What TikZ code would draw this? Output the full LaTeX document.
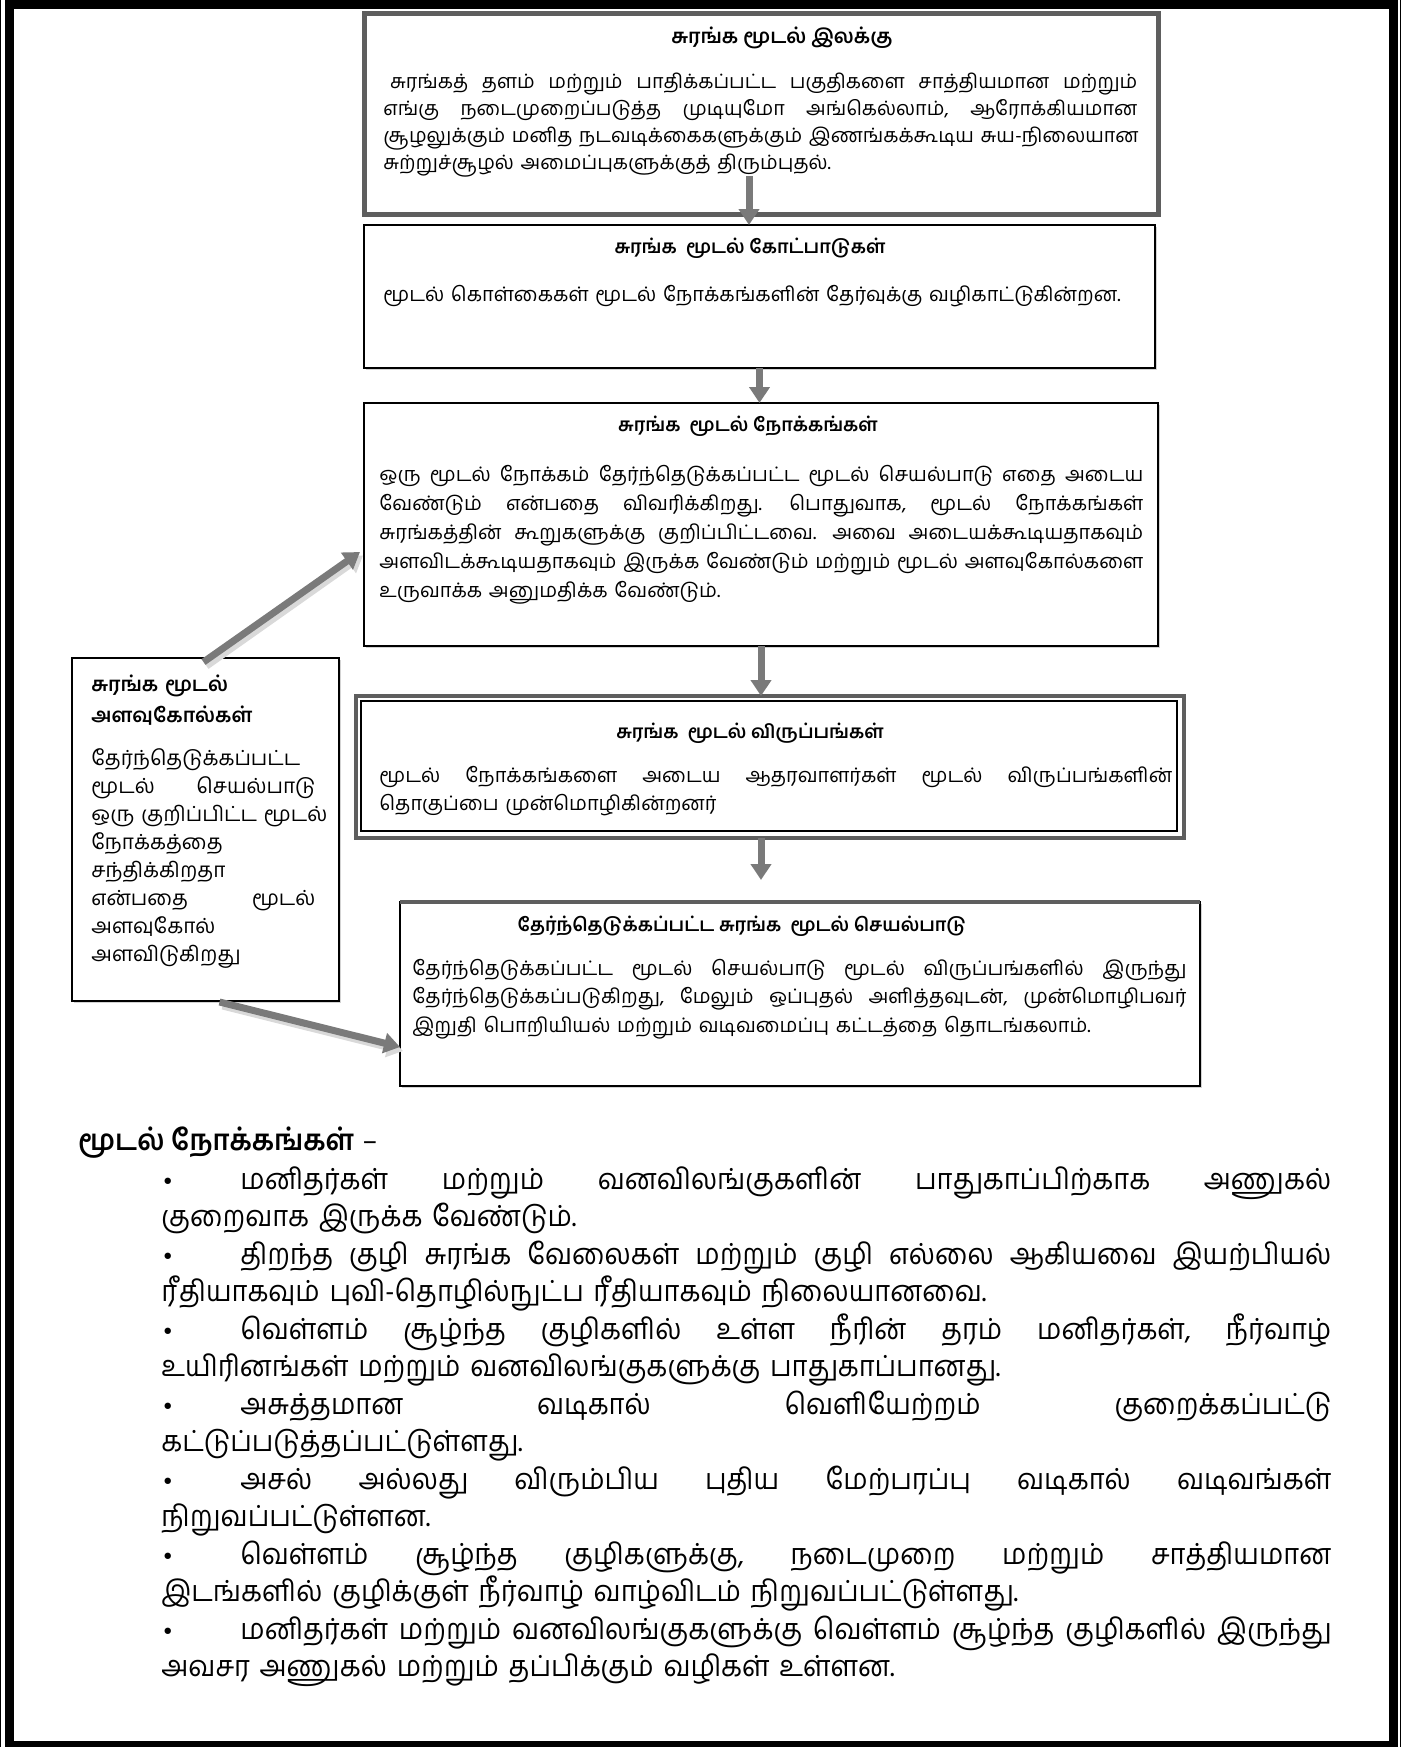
\documentclass[tikz,border=0pt]{standalone}
\usepackage{fontspec}
\usetikzlibrary{calc,arrows.meta,shadows}
\newfontfamily\tam[Script=Tamil]{Hind Madurai}
\newfontfamily\tamn[Script=Tamil,FakeStretch=0.94]{Hind Madurai}
\newfontfamily\djv{DejaVu Sans}
\newcommand\JL[2]{\leavevmode\hbox to #1{#2}}
\def\s{ \hfill}
\newcommand\bul{\hbox to 39.5pt{\djv\fontsize{11}{11}\selectfont •\hfil}}
\definecolor{arrgray}{HTML}{7A7A7A}
\definecolor{bordgray}{HTML}{5E5E5E}
\begin{document}
\begin{tikzpicture}[x=0.5pt,y=-0.5pt,
  bx/.style={inner sep=0pt, outer sep=0pt, anchor=north west, fill=white},
  shd/.style={drop shadow={shadow xshift=1.2pt, shadow yshift=-1.2pt, opacity=0.35}},
  body/.style={anchor=base west, inner sep=0pt, align=left, font=\tam\fontsize{10}{#1}\selectfont},
  ttl/.style={anchor=base, inner sep=0pt, font=\tam\bfseries\fontsize{9.3}{12}\selectfont},
  garrow/.style={draw=arrgray, line width=3.5pt, -{Triangle[length=8pt,width=10pt]}},
  gshadow/.style={draw=black!15, line width=3.5pt, -{Triangle[length=8pt,width=10pt]}}
]
\useasboundingbox (0,0) rectangle (1417,1747);
% page frame
\draw[line width=0.65pt] (0.7,0) -- (0.7,1747);
\draw[line width=0.65pt] (1400.5,0) -- (1400.5,1747);
\draw[line width=4.5pt] (9.5,4) rectangle (1393,1745);

% boxes
\node[bx, draw=bordgray, line width=2.5pt, minimum width=397pt, minimum height=100.5pt] (b1) at (364,13) {};
\node[bx, shd, draw=black, line width=0.8pt, minimum width=395.5pt, minimum height=71.5pt] (b2) at (364,225) {};
\node[bx, shd, draw=black, line width=1pt, minimum width=397pt, minimum height=121.5pt] (b3) at (364,403) {};
\node[bx, draw=bordgray, line width=2pt, minimum width=414pt, minimum height=71pt] (b4) at (356,696) {};
\node[bx, draw=black, line width=0.8pt, minimum width=408pt, minimum height=65pt] (b4i) at (361,701) {};
\node[bx, shd, draw=black, line width=1pt, minimum width=400pt, minimum height=92pt] (b5) at (400,902) {};
\draw[bordgray, line width=2pt] (b5.north west) -- (b5.north east);
\node[bx, shd, draw=black, line width=1pt, minimum width=133.5pt, minimum height=171.5pt] (lb) at (72,658) {};

% arrows
\draw[garrow] ($(b1.south)+(-12,-38)$) -- ($(b2.north)+(-10.5,0)$);
\draw[garrow] (b2.south) -- (b2.south |- b3.north);
\draw[garrow] (b3.south) -- (b3.south |- b4.north);
\draw[garrow] ($(b4.south)+(-9,0)$) -- ($(b5.north)+(-39,-22)$);
\draw[gshadow] ($(lb.north)+(1,8)$) -- ($(b3.west)+(-1,31)$);
\draw[garrow] ($(lb.north)+(-2,4)$) -- ($(b3.west)+(-4,27.5)$);
\draw[gshadow] ($(lb.south)+(17,5)$) -- ($(b5.west)+(3,57)$);
\draw[garrow] ($(lb.south)+(14,1)$) -- ($(b5.west)+(0,53)$);

% box 1
\node[ttl, font=\tam\bfseries\fontsize{10}{12}\selectfont] (t1) at (782,43) {சுரங்க மூடல் இலக்கு};
\node[body=13.5pt, text width=377pt, font=\tam\fontsize{9.9}{13.5}\selectfont] (p1) at (383,88) {%
\JL{377pt}{\ சுரங்கத்\s தளம்\s மற்றும்\s பாதிக்கப்பட்ட\s பகுதிகளை\s சாத்தியமான\s மற்றும்}\\
\JL{377pt}{எங்கு\s நடைமுறைப்படுத்த\s முடியுமோ\s அங்கெல்லாம்,\s ஆரோக்கியமான}\\
\JL{377pt}{சூழலுக்கும்\s மனித\s நடவடிக்கைகளுக்கும்\s இணங்கக்கூடிய\s சுய-நிலையான}\\
சுற்றுச்சூழல் அமைப்புகளுக்குத் திரும்புதல்.};

% box 2
\node[ttl] (t2) at (750,253) {சுரங்க\ \ மூடல் கோட்பாடுகள்};
\node[body=13pt, text width=380pt] (p2) at (383,301) {மூடல் கொள்கைகள் மூடல் நோக்கங்களின் தேர்வுக்கு வழிகாட்டுகின்றன.};

% box 3
\node[ttl] (t3) at (748,431) {சுரங்க\ \ மூடல் நோக்கங்கள்};
\node[body=14.5pt, text width=382pt] (p3) at (379,481) {%
\JL{382pt}{ஒரு\s மூடல்\s நோக்கம்\s தேர்ந்தெடுக்கப்பட்ட\s மூடல்\s செயல்பாடு\s எதை\s அடைய}\\
\JL{382pt}{வேண்டும்\s என்பதை\s விவரிக்கிறது.\s பொதுவாக,\s மூடல்\s நோக்கங்கள்}\\
\JL{382pt}{சுரங்கத்தின்\s கூறுகளுக்கு\s குறிப்பிட்டவை.\s அவை\s அடையக்கூடியதாகவும்}\\
\JL{382pt}{அளவிடக்கூடியதாகவும்\s இருக்க\s வேண்டும்\s மற்றும்\s மூடல்\s அளவுகோல்களை}\\
உருவாக்க அனுமதிக்க வேண்டும்.};

% box 4
\node[ttl] (t4) at (750,738) {சுரங்க\ \ மூடல் விருப்பங்கள்};
\node[body=14pt, text width=396.5pt] (p4) at (379,782) {%
\JL{396.5pt}{மூடல்\s நோக்கங்களை\s அடைய\s ஆதரவாளர்கள்\s மூடல்\s விருப்பங்களின்}\\
தொகுப்பை முன்மொழிகின்றனர்};

% box 5
\node[ttl] (t5) at (742,931) {தேர்ந்தெடுக்கப்பட்ட சுரங்க\ \ மூடல் செயல்பாடு};
\node[body=14.25pt, text width=387pt] (p5) at (412,975) {%
\JL{387pt}{தேர்ந்தெடுக்கப்பட்ட\s மூடல்\s செயல்பாடு\s மூடல்\s விருப்பங்களில்\s இருந்து}\\
\JL{387pt}{தேர்ந்தெடுக்கப்படுகிறது,\s மேலும்\s ஒப்புதல்\s அளித்தவுடன்,\s முன்மொழிபவர்}\\
இறுதி பொறியியல் மற்றும் வடிவமைப்பு கட்டத்தை தொடங்கலாம்.};

% left box
\node[anchor=base west, inner sep=0pt, align=left, text width=112pt, font=\tam\bfseries\fontsize{10}{15.5}\selectfont] (tl) at (91,691) {சுரங்க மூடல்\\அளவுகோல்கள்};
\node[body=14pt, text width=112pt, font=\tam\fontsize{10.4}{14}\selectfont] (pl) at (91,765) {%
தேர்ந்தெடுக்கப்பட்ட\\
\JL{112pt}{மூடல்\s செயல்பாடு}\\
\JL{112pt}{ஒரு\s குறிப்பிட்ட\s மூடல்}\\
நோக்கத்தை\\
சந்திக்கிறதா\\
\JL{112pt}{என்பதை\s மூடல்}\\
அளவுகோல்\\
அளவிடுகிறது};

% bottom list
\node[anchor=base west, inner sep=0pt, font=\tamn\fontsize{14.5}{18}\selectfont] (hd) at (78,1150) {\textbf{மூடல் நோக்கங்கள்} –};
\node[body=18.75pt, text width=585pt, font=\tamn\fontsize{14.5}{18.75}\selectfont] (bl) at (161,1189) {%
\JL{585pt}{\bul மனிதர்கள்\s மற்றும்\s வனவிலங்குகளின்\s பாதுகாப்பிற்காக\s அணுகல்}\\
குறைவாக இருக்க வேண்டும்.\\
\JL{585pt}{\bul திறந்த\s குழி\s சுரங்க\s வேலைகள்\s மற்றும்\s குழி\s எல்லை\s ஆகியவை\s இயற்பியல்}\\
ரீதியாகவும் புவி-தொழில்நுட்ப ரீதியாகவும் நிலையானவை.\\
\JL{585pt}{\bul வெள்ளம்\s சூழ்ந்த\s குழிகளில்\s உள்ள\s நீரின்\s தரம்\s மனிதர்கள்,\s நீர்வாழ்}\\
உயிரினங்கள் மற்றும் வனவிலங்குகளுக்கு பாதுகாப்பானது.\\
\JL{585pt}{\bul அசுத்தமான\s வடிகால்\s வெளியேற்றம்\s குறைக்கப்பட்டு}\\
கட்டுப்படுத்தப்பட்டுள்ளது.\\
\JL{585pt}{\bul அசல்\s அல்லது\s விரும்பிய\s புதிய\s மேற்பரப்பு\s வடிகால்\s வடிவங்கள்}\\
நிறுவப்பட்டுள்ளன.\\
\JL{585pt}{\bul வெள்ளம்\s சூழ்ந்த\s குழிகளுக்கு,\s நடைமுறை\s மற்றும்\s சாத்தியமான}\\
இடங்களில் குழிக்குள் நீர்வாழ் வாழ்விடம் நிறுவப்பட்டுள்ளது.\\
\JL{585pt}{\bul மனிதர்கள்\s மற்றும்\s வனவிலங்குகளுக்கு\s வெள்ளம்\s சூழ்ந்த\s குழிகளில்\s இருந்து}\\
அவசர அணுகல் மற்றும் தப்பிக்கும் வழிகள் உள்ளன.};
\end{tikzpicture}
\end{document}
